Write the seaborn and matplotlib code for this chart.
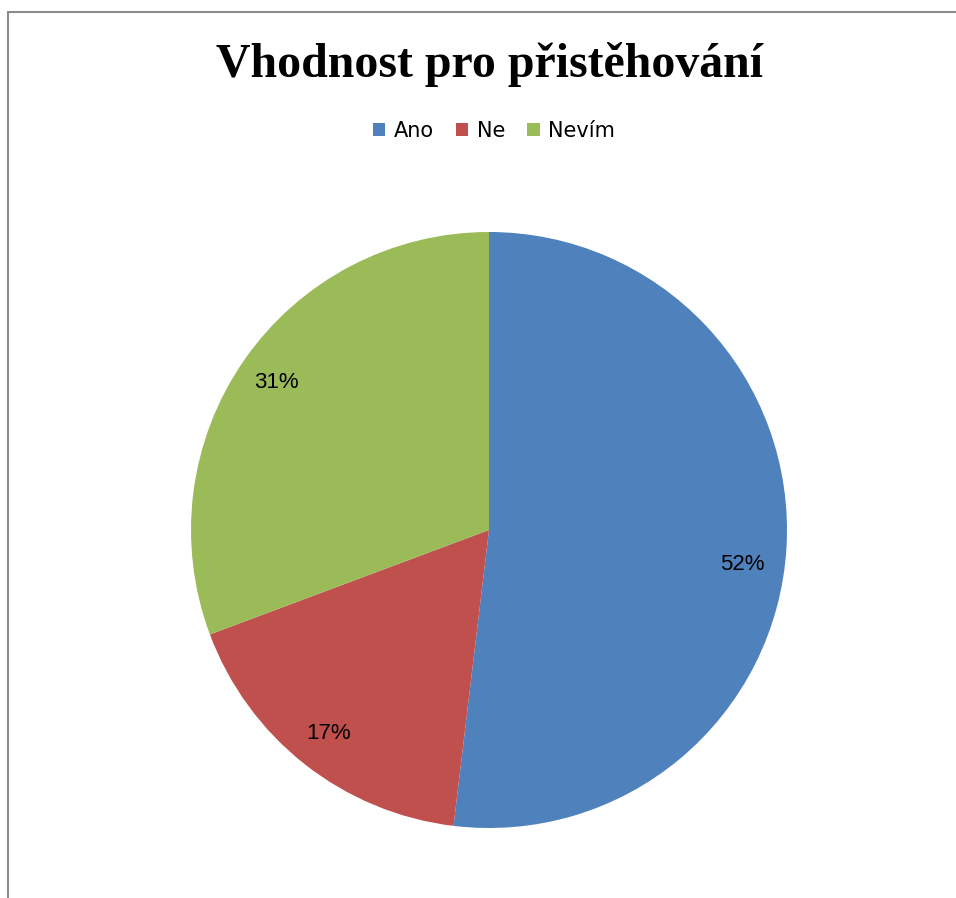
import matplotlib
matplotlib.use("Agg")
import matplotlib.pyplot as plt
import seaborn as sns
from matplotlib.lines import Line2D
from matplotlib.patches import Patch

# ---- data ----
categories = ["Ano", "Ne", "Nevím"]
shares = [51.9, 17.4, 30.7]
colors = ["#4F81BD", "#C0504D", "#9BBB59"]
title = "Vhodnost pro přistěhování"

sns.set_theme(style="white")
plt.rcParams['font.family'] = ['Liberation Sans', 'DejaVu Sans']

W, H = 956, 898
fig = plt.figure(figsize=(W / 100, H / 100), dpi=100)
fig.patch.set_facecolor("white")

# pie centre (489, 530) px, radius 298 px
cx, cy, r = 489, 530, 298
ax = fig.add_axes([(cx - r) / W, (H - cy - r) / H, 2 * r / W, 2 * r / H])
wedges, texts, autotexts = ax.pie(
    shares, colors=colors, startangle=90, counterclock=False,
    autopct='%.0f%%', pctdistance=0.87, radius=1,
    wedgeprops=dict(linewidth=0),
    textprops=dict(fontsize=16, color="black"),
)
# Excel's "best fit" puts the big slice's label a bit lower
x0, y0 = autotexts[0].get_position()
autotexts[0].set_position((x0 - 0.02, y0 - 0.065))
ax.set_xlim(-1, 1)
ax.set_ylim(-1, 1)
ax.set_aspect("equal")
ax.axis("off")

# title
fig.text(490 / W, 1 - 77 / H, title, ha="center", va="baseline", color="black",
         fontsize=34.5, fontweight="bold", family=["Liberation Serif", "DejaVu Serif"])

# legend
handles = [Patch(facecolor=c, edgecolor="none") for c in colors]
leg = fig.legend(handles, categories, loc="center", bbox_to_anchor=(494 / W, 1 - 131 / H),
                 ncol=3, frameon=False, handlelength=0.58, handleheight=0.58,
                 handletextpad=0.43, columnspacing=1.06, borderaxespad=0, borderpad=0,
                 prop=dict(family="DejaVu Sans", size=15))
for t in leg.get_texts():
    t.set_color("black")

# chart-area border (top and left edges visible)
fig.add_artist(Line2D([8 / W, 1], [1 - 12 / H, 1 - 12 / H], transform=fig.transFigure,
                      color="#8c8c8c", linewidth=1.5))
fig.add_artist(Line2D([8 / W, 8 / W], [0, 1 - 12 / H], transform=fig.transFigure,
                      color="#8c8c8c", linewidth=1.5))

fig.savefig("out.png", dpi=100)
